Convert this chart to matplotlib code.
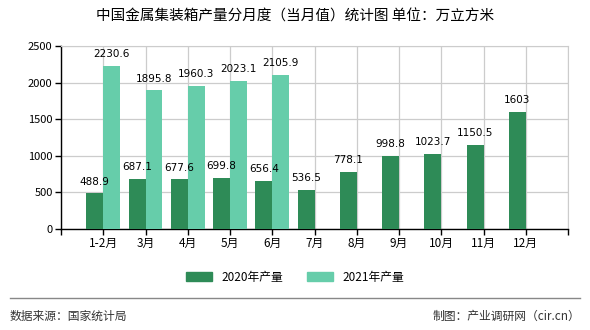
import numpy as np
import matplotlib.pyplot as plt
from matplotlib.patches import Patch

plt.rcParams['font.family'] = ['Noto Sans CJK SC', 'DejaVu Sans']

months = ['1-2月', '3月', '4月', '5月', '6月', '7月', '8月', '9月', '10月', '11月', '12月']
y2020 = [488.9, 687.1, 677.6, 699.8, 656.4, 536.5, 778.1, 998.8, 1023.7, 1150.5, 1603]
y2021 = [2230.6, 1895.8, 1960.3, 2023.1, 2105.9]
lab2020 = ['488.9', '687.1', '677.6', '699.8', '656.4', '536.5', '778.1', '998.8', '1023.7', '1150.5', '1603']
lab2021 = ['2230.6', '1895.8', '1960.3', '2023.1', '2105.9']

c20 = '#2e8b57'
c21 = '#66cdaa'

fig = plt.figure(figsize=(5.9, 3.3), dpi=100)
ax = fig.add_axes([61 / 590, 1 - 229 / 330, 507 / 590, 183 / 330])

x = np.arange(1, len(months) + 1)
w = 0.4
ax.bar(x[:len(y2020)] - w / 2, y2020, w, color=c20, zorder=3)
x21 = x[:len(y2021)]
ax.bar(x21 + w / 2, y2021, w, color=c21, zorder=3)

for xi, v, t in zip(x, y2020, lab2020):
    ax.text(xi - w / 2, v + 90, t, ha='center', va='bottom', fontsize=7.5, family='DejaVu Sans')
for xi, v, t in zip(x21, y2021, lab2021):
    ax.text(xi + w / 2, v + 90, t, ha='center', va='bottom', fontsize=7.5, family='DejaVu Sans')

ax.set_xlim(0, 12)
ax.set_ylim(0, 2500)
ax.set_yticks(np.arange(0, 2501, 500))
ax.set_xticks(x)
ax.set_xticklabels(months, fontsize=8.5)
ax.tick_params(axis='y', labelsize=8, length=4, width=1, pad=2)
ax.tick_params(axis='x', length=4, width=1, pad=2)
ax.set_xticks(np.arange(0, 13), minor=True)
ax.tick_params(axis='x', which='minor', length=4, width=1)
ax.grid(True, which='major', color='#cccccc', linewidth=0.9, zorder=0)
ax.grid(True, which='minor', axis='x', color='#cccccc', linewidth=0.9, zorder=0)
for s in ['top', 'right']:
    ax.spines[s].set_color('#cccccc')
for s in ['left', 'bottom']:
    ax.spines[s].set_color('black')
    ax.spines[s].set_linewidth(1)

fig.text(0.5, 1 - 17 / 330, '中国金属集装箱产量分月度（当月值）统计图 单位：万立方米',
         ha='center', va='center', fontsize=10.5)

handles = [Patch(color=c20, label='2020年产量'), Patch(color=c21, label='2021年产量')]
fig.legend(handles=handles, loc='center', bbox_to_anchor=(0.5, 1 - 277 / 330), ncol=2,
           frameon=False, fontsize=8.5, handlelength=2.2, handleheight=0.8, columnspacing=2)

fig.add_artist(plt.Line2D([10 / 590, 580 / 590], [1 - 298 / 330] * 2, color='#888888', linewidth=1))
fig.text(10 / 590, 1 - 316 / 330, '数据来源：国家统计局', ha='left', va='center', fontsize=8.5, color='#333333')
fig.text(580 / 590, 1 - 316 / 330, '制图：产业调研网（cir.cn）', ha='right', va='center', fontsize=8.5, color='#333333')

fig.savefig('out.png', dpi=100)
